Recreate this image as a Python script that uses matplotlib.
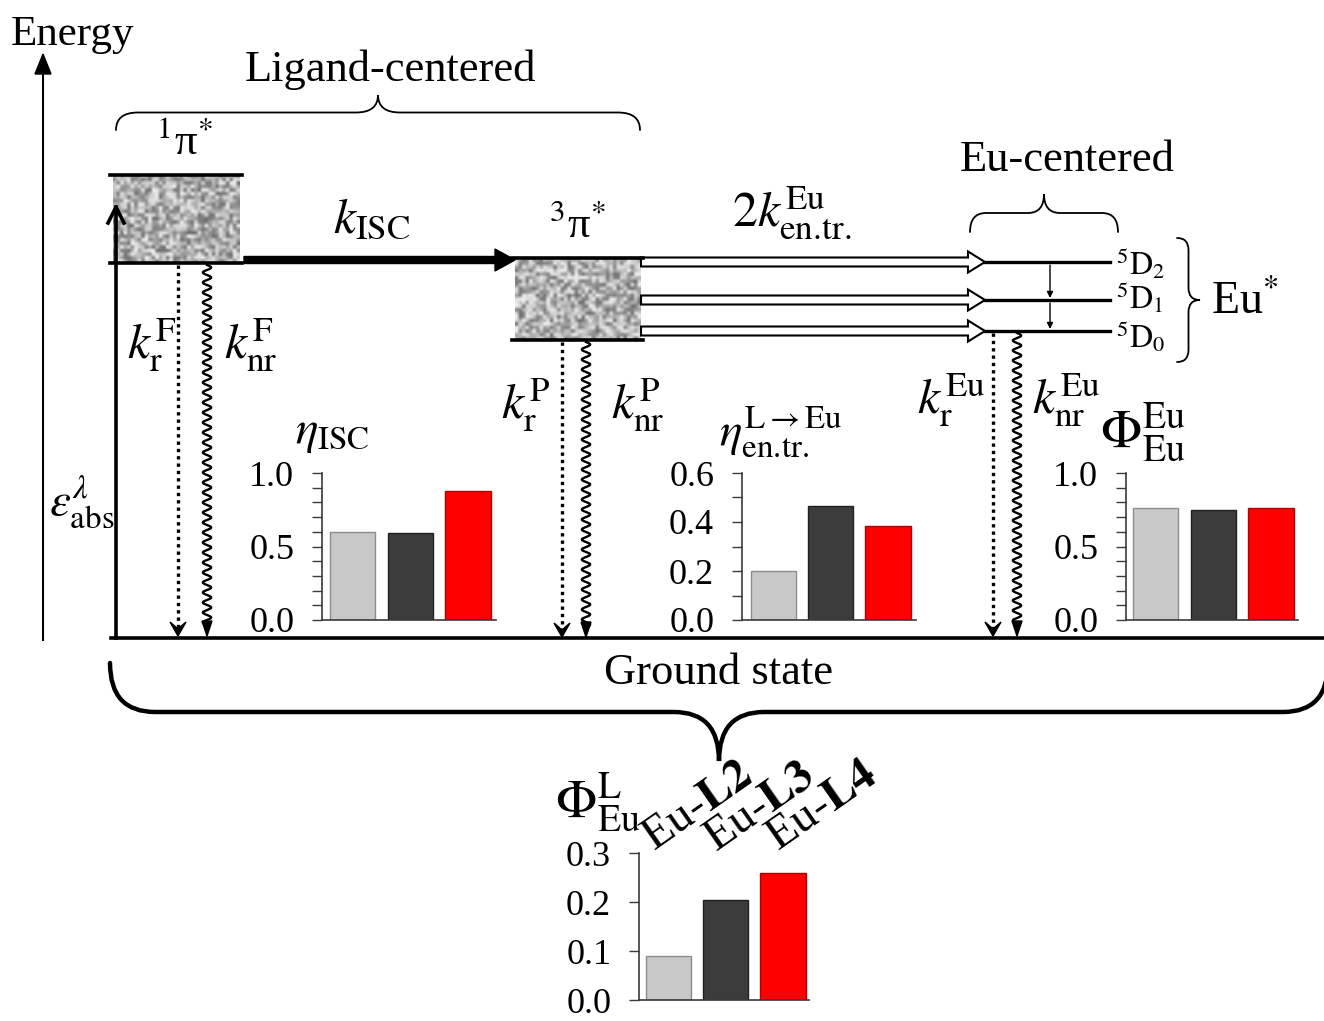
import numpy as np
import matplotlib
matplotlib.use('Agg')
import matplotlib.pyplot as plt
from matplotlib.path import Path
from matplotlib.patches import PathPatch, Polygon, FancyArrow
from matplotlib.transforms import blended_transform_factory

plt.rcParams['font.family'] = ['Liberation Serif', 'DejaVu Serif']
plt.rcParams['mathtext.fontset'] = 'stix'

W, H = 1324, 1021

# data
complexes = [r'Eu-$\mathbf{L2}$', r'Eu-$\mathbf{L3}$', r'Eu-$\mathbf{L4}$']
bar_colors = ['#c8c8c8', '#3c3c3c', '#ff0000']
bar_edges = ['#8c8c8c', '#202020', '#b00000']
eta_isc = [0.60, 0.59, 0.88]
eta_entr = [0.20, 0.465, 0.385]
phi_eu_eu = [0.76, 0.745, 0.765]
phi_eu_l = [0.09, 0.205, 0.26]
eu_levels = [r'$^{5}\mathrm{D}_{2}$', r'$^{5}\mathrm{D}_{1}$', r'$^{5}\mathrm{D}_{0}$']

fig = plt.figure(figsize=(W / 100, H / 100), dpi=100)
ax = fig.add_axes([0, 0, 1, 1])


def speckle(rows, cols, k):
    i, j = np.mgrid[0:rows, 0:cols]
    v = np.sin(i * 12.9898 + j * 78.233 + k) * 43758.5453
    return v - np.floor(v)


def state_box(x0, x1, y0, y1, k):
    tex = speckle(int((y1 - y0) / 3.5), int((x1 - x0) / 3.5), k)
    ax.imshow(tex, cmap='gray', vmin=-0.8, vmax=1.1, extent=(x0, x1, y1, y0),
              aspect='auto', interpolation='bilinear', zorder=1)
    ax.plot([x0 - 3, x1 + 2], [y0, y0], color='k', lw=2.6, zorder=3)
    ax.plot([x0 - 3, x1 + 2], [y1, y1], color='k', lw=2.6, zorder=3)


def brace(p0, length, depth, r, lw, vertical=False):
    L, d = length, depth
    uv = [(0, 0), (0, d / 2), (r, d / 2), (L / 2 - r, d / 2), (L / 2, d / 2), (L / 2, d),
          (L / 2, d / 2), (L / 2 + r, d / 2), (L - r, d / 2), (L, d / 2), (L, 0)]
    codes = [Path.MOVETO, Path.CURVE3, Path.CURVE3, Path.LINETO, Path.CURVE3, Path.CURVE3,
             Path.CURVE3, Path.CURVE3, Path.LINETO, Path.CURVE3, Path.CURVE3]
    if vertical:
        verts = [(p0[0] + v, p0[1] + u) for u, v in uv]
    else:
        verts = [(p0[0] + u, p0[1] + v) for u, v in uv]
    ax.add_patch(PathPatch(Path(verts, codes), fc='none', ec='k', lw=lw, capstyle='round'))


def dotted_arrow(x, y0, y1):
    ax.plot([x, x], [y0, y1 - 6], color='k', lw=2.4, ls=(0, (1, 1.2)))
    ax.add_patch(Polygon([(x - 8, y1 - 14), (x, y1 - 7), (x + 8, y1 - 14), (x, y1)],
                         closed=True, fc='k', ec='k', lw=1))


def wavy_arrow(x, y0, y1):
    yy = np.linspace(y0, y1 - 12, 500)
    ax.plot(x + 4.2 * np.sin(2 * np.pi * (yy - y0) / 10.0), yy, color='k', lw=1.7)
    ax.add_patch(Polygon([(x - 5, y1 - 15), (x + 5, y1 - 15), (x, y1)], closed=True, fc='k', ec='k'))


# energy axis
ax.plot([43, 43], [640, 70], color='k', lw=1.5)
ax.add_patch(Polygon([(43, 54), (35, 74), (51, 74)], closed=True, fc='k', ec='k'))
ax.text(72, 35, 'Energy', fontsize=31, ha='center', va='center')

# ground state line and excitation
ax.plot([111, W], [638, 638], color='k', lw=2.6)
ax.plot([116, 116], [638, 207], color='k', lw=2.6, zorder=4)
ax.plot([108, 116, 124], [223, 207, 223], color='k', lw=2.6, zorder=4)
ax.text(82, 503, r'$\varepsilon^{\lambda}_{\mathrm{abs}}$', fontsize=34, ha='center', va='center')

# singlet and triplet
state_box(113, 240, 175, 263, 1.0)
ax.text(184, 142, r'$^{1}$π$^{*}$', fontsize=32, ha='center', va='center')
state_box(515, 641, 258, 340, 7.0)
ax.text(577, 225, r'$^{3}$π$^{*}$', fontsize=32, ha='center', va='center')

ax.add_patch(FancyArrow(244, 260, 271, 0, width=7, head_width=22, head_length=20,
                        length_includes_head=True, color='k'))
ax.text(372, 220, r'$k_{\mathrm{ISC}}$', fontsize=36, ha='center', va='center')

# energy transfer arrows and Eu levels
level_y = [262, 300, 331]
label_dy = [2, -2, 6]
for y, dy, lab in zip(level_y, label_dy, eu_levels):
    ax.add_patch(FancyArrow(641, y, 344, 0, width=9, head_width=21, head_length=17,
                            length_includes_head=True, fc='white', ec='k', lw=1.5))
    ax.plot([985, 1110], [y, y], color='k', lw=2.4)
    ax.text(1116, y + dy, lab, fontsize=23, ha='left', va='center')
for ya, yb in [(level_y[0], level_y[1]), (level_y[1], level_y[2])]:
    ax.annotate('', xy=(1050, yb - 2), xytext=(1050, ya + 3),
                arrowprops=dict(arrowstyle='-|>', lw=1.0, color='k', mutation_scale=9,
                                shrinkA=0, shrinkB=0))
ax.text(792, 213, r'$2k^{\mathrm{Eu}}_{\mathrm{en.\!tr.}}$', fontsize=36, ha='center', va='center')
ax.text(1211, 302, r'Eu$^{*}$', fontsize=33, ha='left', va='center')

# decays
dotted_arrow(178, 265, 636)
wavy_arrow(207, 265, 636)
dotted_arrow(562, 342, 637)
wavy_arrow(586, 342, 637)
dotted_arrow(993, 333, 636)
wavy_arrow(1017, 333, 636)
ax.text(152, 345, r'$k^{\mathrm{F}}_{\mathrm{r}}$', fontsize=36, ha='center', va='center')
ax.text(251, 345, r'$k^{\mathrm{F}}_{\mathrm{nr}}$', fontsize=36, ha='center', va='center')
ax.text(526, 405, r'$k^{\mathrm{P}}_{\mathrm{r}}$', fontsize=36, ha='center', va='center')
ax.text(638, 405, r'$k^{\mathrm{P}}_{\mathrm{nr}}$', fontsize=36, ha='center', va='center')
ax.text(951, 400, r'$k^{\mathrm{Eu}}_{\mathrm{r}}$', fontsize=36, ha='center', va='center')
ax.text(1066, 400, r'$k^{\mathrm{Eu}}_{\mathrm{nr}}$', fontsize=36, ha='center', va='center')

# braces
brace((116, 130), 524, -35, 22, 1.3)
ax.text(391, 70, 'Ligand-centered', fontsize=32, ha='center', va='center')
brace((970, 232), 148, -38, 16, 1.3)
ax.text(1067, 160, 'Eu-centered', fontsize=32, ha='center', va='center')
brace((1177, 238), 124, 23, 12, 1.3, vertical=True)
brace((110, 663), 1214 + 4, 98, 45, 3.2)
ax.text(718, 673, 'Ground state', fontsize=32, ha='center', va='center')

ax.set_xlim(0, W)
ax.set_ylim(H, 0)
ax.axis('off')


def bar_inset(left, right, base, top, xlim, ymax, values, major, minor):
    a = fig.add_axes([left / W, (H - base) / H, (right - left) / W, (base - top) / H])
    a.bar(range(3), values, width=0.79, color=bar_colors, edgecolor=bar_edges, linewidth=1.0)
    a.set_xlim(*xlim)
    a.set_ylim(0, ymax)
    a.set_facecolor('none')
    for s in ['top', 'right']:
        a.spines[s].set_visible(False)
    for s in ['left', 'bottom']:
        a.spines[s].set_color('#3a3a3a')
        a.spines[s].set_linewidth(1.2)
    a.set_xticks([])
    a.set_yticks(major)
    a.set_yticklabels([f'{v:.1f}' for v in major])
    if minor is not None:
        a.set_yticks(minor, minor=True)
    a.tick_params(axis='y', which='both', direction='out', length=7, width=1.0,
                  color='#3a3a3a', labelsize=26, pad=13)
    return a


bar_inset(322, 496, 620, 473, (-0.533, 2.49), 1.0, eta_isc, [0, 0.5, 1.0], np.arange(0, 1.01, 0.1))
ax.text(332, 434, r'$\eta_{\mathrm{ISC}}$', fontsize=34, ha='center', va='center')

bar_inset(742, 916, 620, 473, (-0.544, 2.49), 0.6, eta_entr, [0, 0.2, 0.4, 0.6], np.arange(0, 0.61, 0.1))
ax.text(781, 432, r'$\eta^{\mathrm{L\rightarrow Eu}}_{\mathrm{en.\!tr.}}$', fontsize=34,
        ha='center', va='center')

bar_inset(1126, 1298, 620, 473, (-0.515, 2.47), 1.0, phi_eu_eu, [0, 0.5, 1.0], np.arange(0, 1.01, 0.1))
ax.text(1143, 432, r'$\Phi^{\mathrm{Eu}}_{\mathrm{Eu}}$', fontsize=39, ha='center', va='center')

a4 = bar_inset(639, 809, 1000, 853, (-0.509, 2.456), 0.3, phi_eu_l, [0, 0.1, 0.2, 0.3], None)
tr = blended_transform_factory(a4.transData, a4.transAxes)
for i, lab in enumerate(complexes):
    a4.text(i * 1.08 - 0.25, 1.01, lab, transform=tr, fontsize=34, rotation=35,
            ha='left', va='baseline', rotation_mode='anchor')
ax.text(598, 802, r'$\Phi^{\mathrm{L}}_{\mathrm{Eu}}$', fontsize=39, ha='center', va='center')

fig.savefig('out.png', dpi=100)
